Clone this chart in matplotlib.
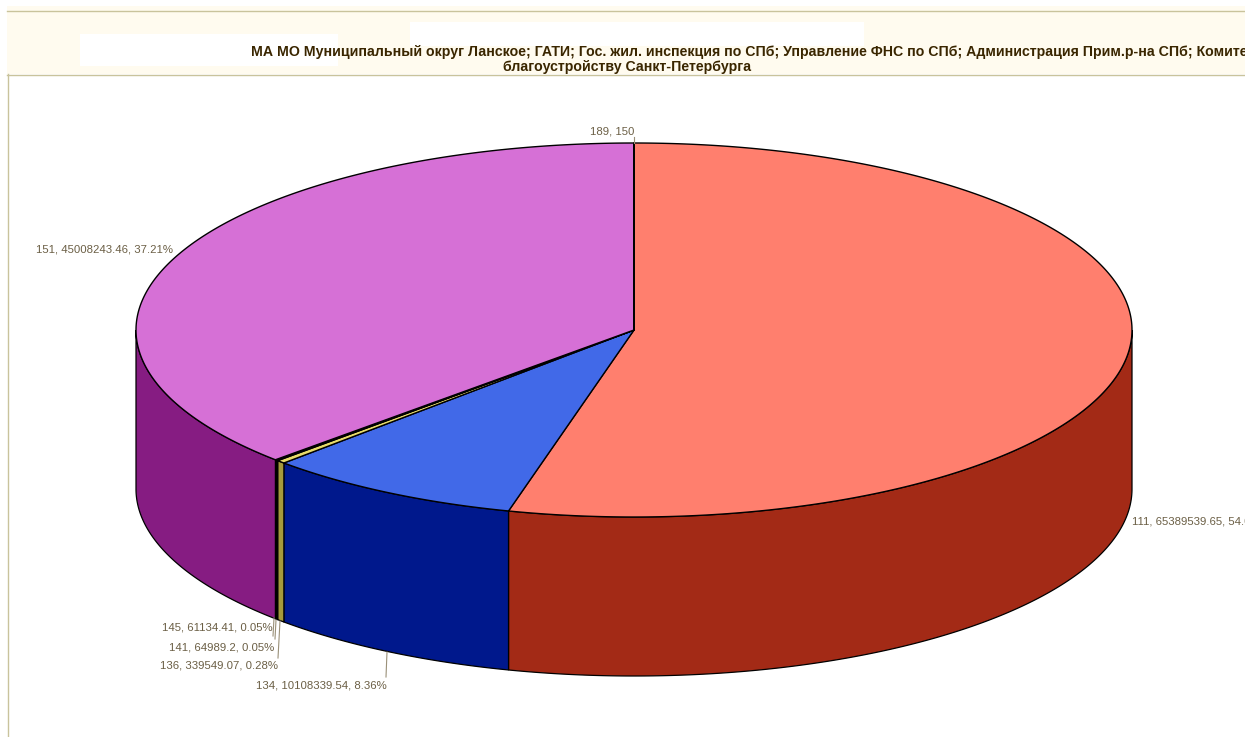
import numpy as np
import matplotlib
matplotlib.use("Agg")
import matplotlib.pyplot as plt
from matplotlib.patches import Polygon, Rectangle

plt.rcParams['font.family'] = ['Liberation Sans Narrow', 'Liberation Sans', 'DejaVu Sans']

# data (clockwise from 12 o'clock)
codes = ["111", "134", "136", "141", "145", "151", "189"]
values = [65389539.65, 10108339.54, 339549.07, 64989.2, 61134.41, 45008243.46, 150]
value_labels = ["65389539.65", "10108339.54", "339549.07", "64989.2", "61134.41", "45008243.46", "150"]
percents = ["54.05%", "8.36%", "0.28%", "0.05%", "0.05%", "37.21%", ""]
top_colors = ["#FF7F6E", "#4169E8", "#E8DC6A", "#3A3A10", "#404040", "#D670D6", "#E0E0E0"]
side_colors = ["#A32A16", "#00188C", "#A59A3C", "#000000", "#000000", "#861C82", "#808080"]
title_lines = ["МА МО Муниципальный округ Ланское; ГАТИ; Гос. жил. инспекция по СПб; Управление ФНС по СПб; Администрация Прим.р-на СПб; Комитет по",
               "благоустройству Санкт-Петербурга"]

W, H = 1245, 737
fig = plt.figure(figsize=(W / 100, H / 100), dpi=100, facecolor="white")
ax = fig.add_axes([0, 0, 1, 1])
ax.set_xlim(0, W)
ax.set_ylim(H, 0)
ax.axis("off")

# header
ax.add_patch(Rectangle((7, 6), W - 7, 68, fc="#FFFBEF", ec="none", zorder=0))
ax.plot([7, W], [10.5, 10.5], color="#C9C39C", lw=1, zorder=1)
ax.plot([7, W], [74.5, 74.5], color="#C9C39C", lw=1, zorder=1)
ax.plot([7.5, 7.5], [74, H], color="#C9C39C", lw=1, zorder=1)
ax.add_patch(Rectangle((80, 34), 258, 32, fc="white", ec="none", zorder=1))
ax.add_patch(Rectangle((410, 22), 454, 24, fc="white", ec="none", zorder=1))
ax.text(763, 52, title_lines[0], ha="center", va="center", fontsize=10.2, color="#3A2600", zorder=3, fontweight="bold")
ax.text(627, 67, title_lines[1], ha="center", va="center", fontsize=10.2, color="#3A2600", zorder=3, fontweight="bold")

# geometry
cx, cy, rx, ry, depth = 634, 330, 498, 187, 159
vals = np.array(values, float)
edges = np.concatenate([[0], np.cumsum(vals) / vals.sum()]) * 2 * np.pi


def pt(t, dy=0.0):
    return cx + rx * np.sin(t), cy - ry * np.cos(t) + dy


# sides (front half: t between pi/2 and 3pi/2)
for i in range(len(vals)):
    a = max(edges[i], np.pi / 2)
    b = min(edges[i + 1], 3 * np.pi / 2)
    if b > a:
        t = np.linspace(a, b, 200)
        xt, yt = pt(t)
        xb, yb = pt(t[::-1], depth)
        ax.add_patch(Polygon(np.c_[np.r_[xt, xb], np.r_[yt, yb]], closed=True,
                             fc=side_colors[i], ec="black", lw=0.9, zorder=4))

# top
for i in range(len(vals)):
    t = np.linspace(edges[i], edges[i + 1], 400)
    xt, yt = pt(t)
    ax.add_patch(Polygon(np.c_[np.r_[cx, xt], np.r_[cy, yt]], closed=True,
                         fc=top_colors[i], ec="black", lw=1.0, zorder=5, joinstyle="round"))

# labels
lab_col = "#6B5F45"
lab = lambda c, v, p: ", ".join(s for s in (c, v, p) if s)
texts = [lab(c, v, p) for c, v, p in zip(codes, value_labels, percents)]
fs = 8.2
ax.text(1132, 521, texts[0], ha="left", va="center", fontsize=fs, color=lab_col, clip_on=True, zorder=6)
ax.text(387, 686, texts[1], ha="right", va="center", fontsize=fs, color=lab_col, zorder=6)
ax.text(278, 666, texts[2], ha="right", va="center", fontsize=fs, color=lab_col, zorder=6)
ax.text(274, 648, texts[3], ha="right", va="center", fontsize=fs, color=lab_col, zorder=6)
ax.text(273, 628, texts[4], ha="right", va="center", fontsize=fs, color=lab_col, zorder=6)
ax.text(173, 249, texts[5], ha="right", va="center", fontsize=fs, color=lab_col, zorder=6)
ax.text(634, 131, texts[6], ha="right", va="center", fontsize=fs, color=lab_col, zorder=6)

# leader lines
lc = "#9A9078"
for xs, ys in [([387, 386], [652, 677]), ([280, 278], [621, 658]), ([276, 275], [620, 639]),
               ([274, 273], [618, 636]), ([634, 634], [137, 143])]:
    ax.plot(xs, ys, color=lc, lw=0.8, zorder=6)

fig.savefig("out.png", dpi=100, facecolor="white")
